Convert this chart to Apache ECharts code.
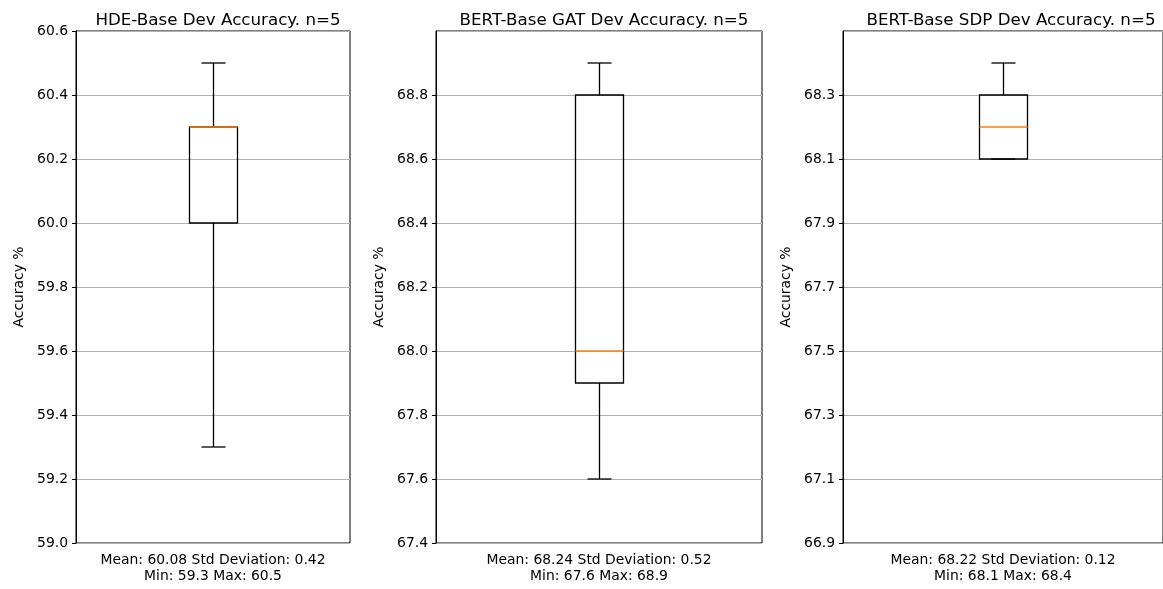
<!DOCTYPE html>
<html>
<head>
<meta charset="utf-8">
<script src="https://cdn.jsdelivr.net/npm/echarts@6/dist/echarts.min.js"></script>
<style>
  html, body { margin: 0; padding: 0; background: #fff; }
  #chart { width: 1163px; height: 589px; }
</style>
</head>
<body>
<div id="chart"></div>
<script>
// panel titles
var titles = [
  'HDE-Base Dev Accuracy. n=5',
  'BERT-Base GAT Dev Accuracy. n=5',
  'BERT-Base SDP Dev Accuracy. n=5'
]
// text under each box
var statLines = [
  'Mean: 60.08 Std Deviation: 0.42\nMin: 59.3 Max: 60.5',
  'Mean: 68.24 Std Deviation: 0.52\nMin: 67.6 Max: 68.9',
  'Mean: 68.22 Std Deviation: 0.12\nMin: 68.1 Max: 68.4'
]
// [min, q1, median, q3, max]
var hdeBox = [59.3, 60.0, 60.3, 60.3, 60.5]
var gatBox = [67.6, 67.9, 68.0, 68.8, 68.9]
var sdpBox = [68.1, 68.1, 68.2, 68.3, 68.4]
// y axis limits
var yMins = [59.0, 67.4, 66.9]
var yMaxs = [60.6, 69.0, 68.5]
var yStep = 0.2

var boxes = [hdeBox, gatBox, sdpBox]
var grids = [
  { left: 76, width: 274 },
  { left: 436, width: 326 },
  { left: 843, width: 326 }
]

function renderBox(params, api) {
  var x = 0
  var lo = api.coord([x, api.value(1)])
  var q1 = api.coord([x, api.value(2)])
  var md = api.coord([x, api.value(3)])
  var q3 = api.coord([x, api.value(4)])
  var hi = api.coord([x, api.value(5)])
  var cx = Math.round(lo[0]) + 0.5
  var hw = 24
  var cw = 12
  var ls = { stroke: '#000', lineWidth: 1.3, fill: null }
  return {
    type: 'group',
    children: [
      { type: 'line', shape: { x1: cx, y1: q1[1], x2: cx, y2: lo[1] }, style: ls },
      { type: 'line', shape: { x1: cx, y1: q3[1], x2: cx, y2: hi[1] }, style: ls },
      { type: 'line', shape: { x1: cx - cw, y1: lo[1], x2: cx + cw, y2: lo[1] }, style: ls },
      { type: 'line', shape: { x1: cx - cw, y1: hi[1], x2: cx + cw, y2: hi[1] }, style: ls },
      { type: 'rect', shape: { x: cx - hw, y: q3[1], width: hw * 2, height: q1[1] - q3[1] }, style: { stroke: '#000', lineWidth: 1.3, fill: 'rgba(0,0,0,0)' } },
      { type: 'line', shape: { x1: cx - hw, y1: md[1], x2: cx + hw, y2: md[1] }, style: { stroke: '#ff7f0e', lineWidth: 1.5 } }
    ]
  }
}

var font = 'DejaVu Sans'
var option = {
  animation: false,
  backgroundColor: '#fff',
  title: [],
  grid: [],
  xAxis: [],
  yAxis: [],
  series: []
}

for (var i = 0; i < 3; i++) {
  var g = grids[i]
  option.title.push({
    text: titles[i],
    left: g.left + g.width / 2,
    top: 7,
    textAlign: 'center',
    textStyle: { fontFamily: font, fontSize: 16.7, fontWeight: 'normal', color: '#000' }
  })
  option.grid.push({
    left: g.left,
    width: g.width,
    top: 31,
    bottom: 43,
    show: true,
    borderColor: '#000',
    borderWidth: 1,
    containLabel: false
  })
  option.xAxis.push({
    gridIndex: i,
    type: 'category',
    data: [''],
    axisLine: { show: false },
    axisTick: { show: false },
    axisLabel: { show: false },
    name: statLines[i],
    nameLocation: 'middle',
    nameGap: 9,
    nameTextStyle: { fontFamily: font, fontSize: 13.9, color: '#000', lineHeight: 16, verticalAlign: 'top' }
  })
  option.yAxis.push({
    gridIndex: i,
    type: 'value',
    min: yMins[i],
    max: yMaxs[i],
    interval: yStep,
    axisLine: { show: true, lineStyle: { color: '#000', width: 1 } },
    axisTick: { show: true, length: 4, lineStyle: { color: '#000' } },
    axisLabel: {
      margin: 8,
      fontFamily: font,
      fontSize: 13.9,
      color: '#000',
      showMaxLabel: i === 0,
      formatter: function(v) { return v.toFixed(1) }
    },
    splitLine: { show: true, lineStyle: { color: '#b0b0b0', width: 1 } },
    name: 'Accuracy %',
    nameLocation: 'middle',
    nameGap: 50,
    nameTextStyle: { fontFamily: font, fontSize: 13.9, color: '#000' }
  })
  option.series.push({
    type: 'custom',
    xAxisIndex: i,
    yAxisIndex: i,
    renderItem: renderBox,
    encode: { x: 0, y: [1, 2, 3, 4, 5] },
    data: [[0].concat(boxes[i])]
  })
}

var chart = echarts.init(document.getElementById('chart'))
chart.setOption(option)
</script>
</body>
</html>
